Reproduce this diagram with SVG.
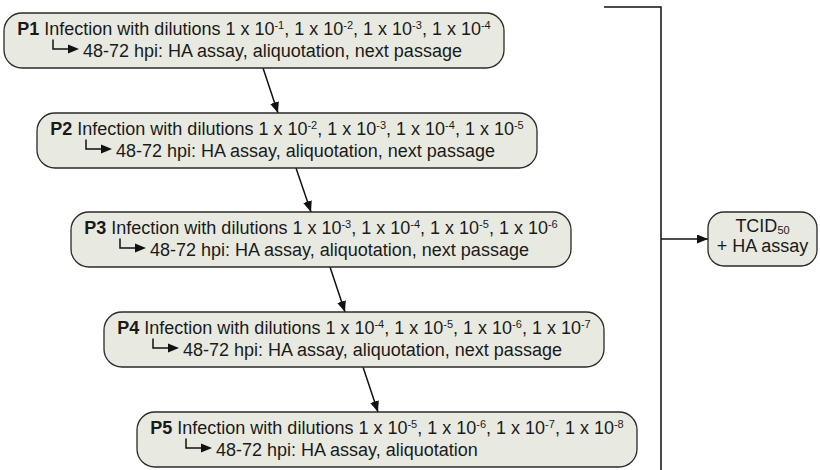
<svg xmlns="http://www.w3.org/2000/svg" width="820" height="470" viewBox="0 0 820 470">
  <style>
    .box { fill: #e8eae1; stroke: #2a2a2a; stroke-width: 1.3; }
    .txt { font-family: "Liberation Sans", Arial, sans-serif; font-size: 18px; fill: #1a1a1a; }
    .b { font-weight: bold; }
    .sup { font-size: 11px; }
    .sub { font-size: 11px; }
    .wire { fill: none; stroke: #111; stroke-width: 1.5; }
    .hook { fill: none; stroke: #111; stroke-width: 1.5; }
    .head { fill: #111; }
  </style>
  <defs>
    <marker id="arrow" markerUnits="userSpaceOnUse" markerWidth="11" markerHeight="9" refX="11" refY="4.5" orient="auto">
      <path d="M0,0 L11,4.5 L0,9 z" fill="#111"/>
    </marker>
    <!-- small bent arrow used before the second line of each passage box -->
    <g id="hookArrow">
      <path class="hook" d="M0,0 V9.5 H17"/>
      <path class="head" d="M15,5 L26,9.5 L15,14 z"/>
    </g>
  </defs>

  <!-- connectors -->
  <g id="connectors">
    <line class="wire" x1="263" y1="68" x2="278" y2="113" marker-end="url(#arrow)"/>
    <line class="wire" x1="296" y1="168" x2="311" y2="212" marker-end="url(#arrow)"/>
    <line class="wire" x1="330" y1="267" x2="345" y2="312" marker-end="url(#arrow)"/>
    <line class="wire" x1="363" y1="367" x2="378" y2="412" marker-end="url(#arrow)"/>
    <polyline class="wire" points="604,7 661,7 661,470"/>
    <line class="wire" x1="661" y1="239" x2="708" y2="239" marker-end="url(#arrow)"/>
  </g>

  <g id="p1">
    <rect class="box" x="4" y="13" width="500" height="55" rx="18"/>
    <text class="txt" x="254" y="34.5" text-anchor="middle"><tspan class="b">P1</tspan> Infection with dilutions 1 x 10<tspan class="sup" dy="-6">-1</tspan><tspan dy="6">, 1 x 10</tspan><tspan class="sup" dy="-6">-2</tspan><tspan dy="6">, 1 x 10</tspan><tspan class="sup" dy="-6">-3</tspan><tspan dy="6">, 1 x 10</tspan><tspan class="sup" dy="-6">-4</tspan></text>
    <use href="#hookArrow" x="53" y="39.5"/>
    <text class="txt" x="83" y="57">48-72 hpi: HA assay, aliquotation, next passage</text>
  </g>

  <g id="p2">
    <rect class="box" x="37" y="113" width="500" height="55" rx="18"/>
    <text class="txt" x="287" y="134.5" text-anchor="middle"><tspan class="b">P2</tspan> Infection with dilutions 1 x 10<tspan class="sup" dy="-6">-2</tspan><tspan dy="6">, 1 x 10</tspan><tspan class="sup" dy="-6">-3</tspan><tspan dy="6">, 1 x 10</tspan><tspan class="sup" dy="-6">-4</tspan><tspan dy="6">, 1 x 10</tspan><tspan class="sup" dy="-6">-5</tspan></text>
    <use href="#hookArrow" x="86" y="139.5"/>
    <text class="txt" x="116" y="157">48-72 hpi: HA assay, aliquotation, next passage</text>
  </g>

  <g id="p3">
    <rect class="box" x="71" y="212" width="500" height="55" rx="18"/>
    <text class="txt" x="321" y="233.5" text-anchor="middle"><tspan class="b">P3</tspan> Infection with dilutions 1 x 10<tspan class="sup" dy="-6">-3</tspan><tspan dy="6">, 1 x 10</tspan><tspan class="sup" dy="-6">-4</tspan><tspan dy="6">, 1 x 10</tspan><tspan class="sup" dy="-6">-5</tspan><tspan dy="6">, 1 x 10</tspan><tspan class="sup" dy="-6">-6</tspan></text>
    <use href="#hookArrow" x="120" y="238.5"/>
    <text class="txt" x="150" y="256">48-72 hpi: HA assay, aliquotation, next passage</text>
  </g>

  <g id="p4">
    <rect class="box" x="104" y="312" width="500" height="55" rx="18"/>
    <text class="txt" x="354" y="333.5" text-anchor="middle"><tspan class="b">P4</tspan> Infection with dilutions 1 x 10<tspan class="sup" dy="-6">-4</tspan><tspan dy="6">, 1 x 10</tspan><tspan class="sup" dy="-6">-5</tspan><tspan dy="6">, 1 x 10</tspan><tspan class="sup" dy="-6">-6</tspan><tspan dy="6">, 1 x 10</tspan><tspan class="sup" dy="-6">-7</tspan></text>
    <use href="#hookArrow" x="153" y="338.5"/>
    <text class="txt" x="183" y="356">48-72 hpi: HA assay, aliquotation, next passage</text>
  </g>

  <g id="p5">
    <rect class="box" x="137" y="412" width="500" height="55" rx="18"/>
    <text class="txt" x="387" y="433.5" text-anchor="middle"><tspan class="b">P5</tspan> Infection with dilutions 1 x 10<tspan class="sup" dy="-6">-5</tspan><tspan dy="6">, 1 x 10</tspan><tspan class="sup" dy="-6">-6</tspan><tspan dy="6">, 1 x 10</tspan><tspan class="sup" dy="-6">-7</tspan><tspan dy="6">, 1 x 10</tspan><tspan class="sup" dy="-6">-8</tspan></text>
    <use href="#hookArrow" x="186" y="438.5"/>
    <text class="txt" x="216" y="456">48-72 hpi: HA assay, aliquotation</text>
  </g>

  <g id="tcid">
    <rect class="box" x="708" y="212" width="109" height="54" rx="16"/>
    <text class="txt" x="762.5" y="232" text-anchor="middle">TCID<tspan class="sub" dy="2">50</tspan></text>
    <text class="txt" x="762.5" y="252" text-anchor="middle">+ HA assay</text>
  </g>
</svg>
